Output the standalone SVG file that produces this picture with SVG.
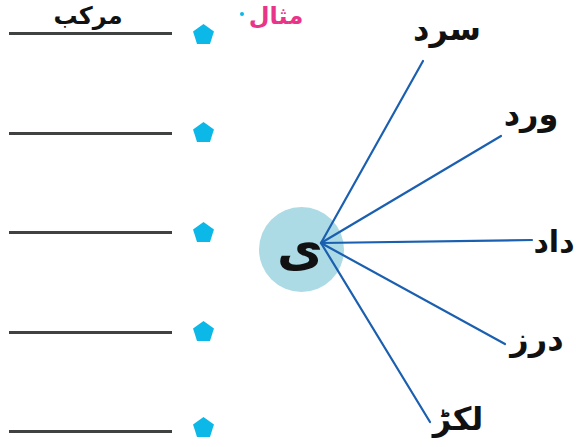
<svg xmlns="http://www.w3.org/2000/svg" width="576" height="447" viewBox="0 0 576 447">
<defs>
<style>
.rule{stroke:#3f4240;stroke-width:3;fill:none}
.pent{fill:#0bb8e8}
.conn{stroke:#1a5fb0;stroke-width:2.2;fill:none;stroke-linecap:round}
.ur{font-family:"DejaVu Sans","Noto Sans",sans-serif;font-weight:bold;fill:#111;text-anchor:middle}
</style>
<polygon id="pg" class="pent" points="0,-11 10.46,-3.4 6.47,8.9 -6.47,8.9 -10.46,-3.4"/>
</defs>
<rect width="576" height="447" fill="#fff"/>
<g id="header">
<text class="ur" x="88" y="24" font-size="24">مرکب</text>
<text x="276" y="24" font-size="24" font-family="DejaVu Sans,sans-serif" font-weight="bold" fill="#e8358a" text-anchor="middle">مثال</text>
<circle cx="242" cy="14" r="2" fill="#0bb8e8"/>
</g>
<g id="answer-lines">
<line class="rule" x1="9" y1="33.5" x2="172" y2="33.5"/>
<line class="rule" x1="9" y1="133.5" x2="172" y2="133.5"/>
<line class="rule" x1="9" y1="232.5" x2="172" y2="232.5"/>
<line class="rule" x1="9" y1="332.5" x2="172" y2="332.5"/>
<line class="rule" x1="9" y1="431.5" x2="172" y2="431.5"/>
<use href="#pg" x="203.5" y="35"/>
<use href="#pg" x="203.5" y="133"/>
<use href="#pg" x="203.5" y="233"/>
<use href="#pg" x="203.5" y="332"/>
<use href="#pg" x="203.5" y="428"/>
</g>
<g id="hub">
<circle cx="301.5" cy="249.5" r="42.5" fill="#acdbe6"/>
<text class="ur" x="300" y="266" font-size="50">ی</text>
</g>
<g id="connectors">
<line class="conn" x1="321" y1="243" x2="423" y2="61"/>
<line class="conn" x1="321" y1="243" x2="501" y2="136"/>
<line class="conn" x1="321" y1="243" x2="532" y2="240"/>
<line class="conn" x1="321" y1="243" x2="505" y2="344"/>
<line class="conn" x1="321" y1="243" x2="430" y2="422"/>
</g>
<g id="w1"><text class="ur" x="447" y="40" font-size="32">سرد</text></g>
<g id="w2"><text class="ur" x="531" y="125" font-size="32">ورد</text></g>
<g id="w3"><text class="ur" x="554" y="252" font-size="30">داد</text></g>
<g id="w4"><text class="ur" x="537" y="350" font-size="32">درز</text></g>
<g id="w5"><text class="ur" x="458" y="430" font-size="32">لکڑ</text></g>
</svg>
